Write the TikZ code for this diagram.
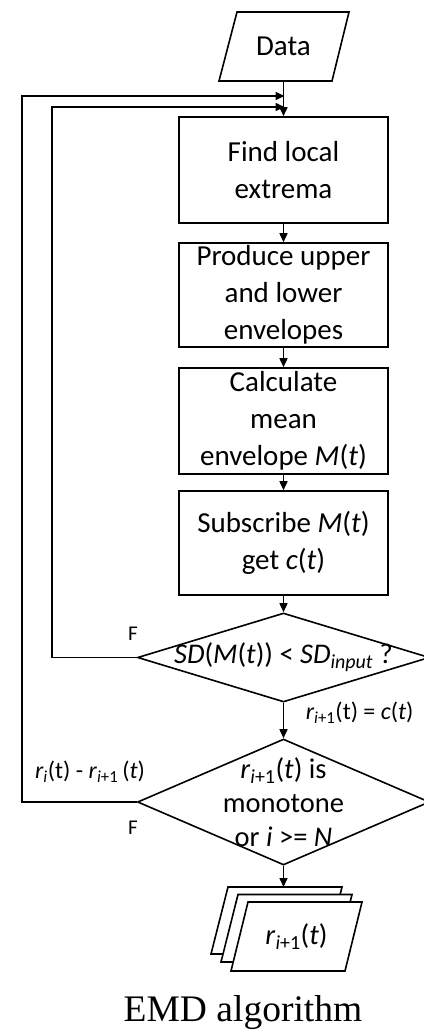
\documentclass[tikz,border=0pt]{standalone}
\usepackage{fontspec}
\setmainfont{Carlito}
\newfontfamily\capfont{Liberation Serif}
\usetikzlibrary{arrows.meta,shapes.geometric,calc}
\begin{document}
\begin{tikzpicture}[x=1pt,y=-1pt,
  line width=1.6pt,
  arr/.style={-{Triangle[length=9pt,width=8pt]}},
  boxnode/.style={draw,rectangle,minimum width=209pt,inner sep=0pt,align=center,
    font=\fontsize{29}{37}\selectfont},
  dianode/.style={draw,diamond,inner sep=0pt,minimum width=292pt},
  dtext/.style={align=center,font=\fontsize{28.5}{34}\selectfont},
  lbl/.style={font=\fontsize{24}{28}\selectfont,inner sep=0pt},
  flbl/.style={font=\fontsize{21}{24}\selectfont,inner sep=0pt}]
\useasboundingbox (0,0) rectangle (423,1030);
% Data
\draw (219,81) -- (237,12) -- (349,12) -- (332,81) -- cycle;
\node[minimum width=113pt,minimum height=69pt,inner sep=0pt,font=\fontsize{29}{34}\selectfont] (data) at (283.5,46.5) {Data};
% boxes
\node[boxnode,minimum height=106pt] (b1) at (283.5,170) {Find local\\extrema};
\node[boxnode,minimum height=104pt] (b2) at (283.5,295) {Produce upper\\and lower\\envelopes};
\node[boxnode,minimum height=106pt] (b3) at (283.5,421) {Calculate\\mean\\envelope \textit{M}(\textit{t})};
\node[boxnode,minimum height=104pt] (b4) at (283.5,543) {Subscribe \textit{M}(\textit{t})\\get \textit{c}(\textit{t})};
% diamonds
\node[dianode,minimum height=89pt] (d1) at (283.5,657.5) {};
\node[dtext] (d1t) at (d1.center) {\textit{SD}(\textit{M}(\textit{t})) < \textit{SD}\textsubscript{\textit{input}} ?};
\node[dianode,minimum height=126pt] (d2) at (283.5,802) {};
\node[dtext] (d2t) at (d2.center) {\textit{r}\textsubscript{\textit{i}+1}(\textit{t}) is\\monotone\\or \textit{i} >= \textit{N}};
% stack of outputs
\draw[fill=white] (211,954) -- (228,887) -- (342,887) -- (325,954) -- cycle;
\draw[fill=white] (221,962) -- (238,894.5) -- (352,894.5) -- (335,962) -- cycle;
\draw[fill=white] (231,971) -- (248,902) -- (362,902) -- (345,971) -- cycle;
\node[minimum width=114pt,minimum height=69pt,inner sep=0pt,font=\fontsize{28.5}{32}\selectfont] (out) at (296.5,936.5) {\textit{r}\textsubscript{\textit{i}+1}(\textit{t})};
\coordinate (outtop) at (283.5,887);
% junction coordinates
\coordinate (j1) at (284.5,96);
\coordinate (j2) at (284.5,107);
\coordinate (c1) at (22,96);
\coordinate (c2) at (52,107);
% main flow
\draw[arr] (data.south) -- (b1.north);
\draw[arr] (b1.south) -- (b2.north);
\draw[arr] (b2.south) -- (b3.north);
\draw[arr] (b3.south) -- (b4.north);
\draw[arr] (b4.south) -- (d1.north);
\draw[arr] (d1.south) -- (d2.north);
\draw[arr] (d2.south) -- (outtop);
% loops
\draw[arr] (d1.west) -- (d1.west -| c2) |- (j2);
\draw[arr] (d2.west) -- (d2.west -| c1) |- (j1);
% labels
\node[flbl] (f1) at (133,634) {F};
\node[flbl] (f2) at (133,828) {F};
\node[lbl,anchor=west] (l1) at (305,713) {\textit{r}\textsubscript{\textit{i}+1}(t) = \textit{c}(\textit{t})};
\node[lbl] (l2) at (90,772) {\textit{r}\textsubscript{\textit{i}}(t) - \textit{r}\textsubscript{\textit{i}+1}\,(\textit{t})};
% caption
\node[font=\capfont\fontsize{37.5}{42}\selectfont,inner sep=0pt] (cap) at (243,1013) {EMD algorithm};
\end{tikzpicture}
\end{document}
